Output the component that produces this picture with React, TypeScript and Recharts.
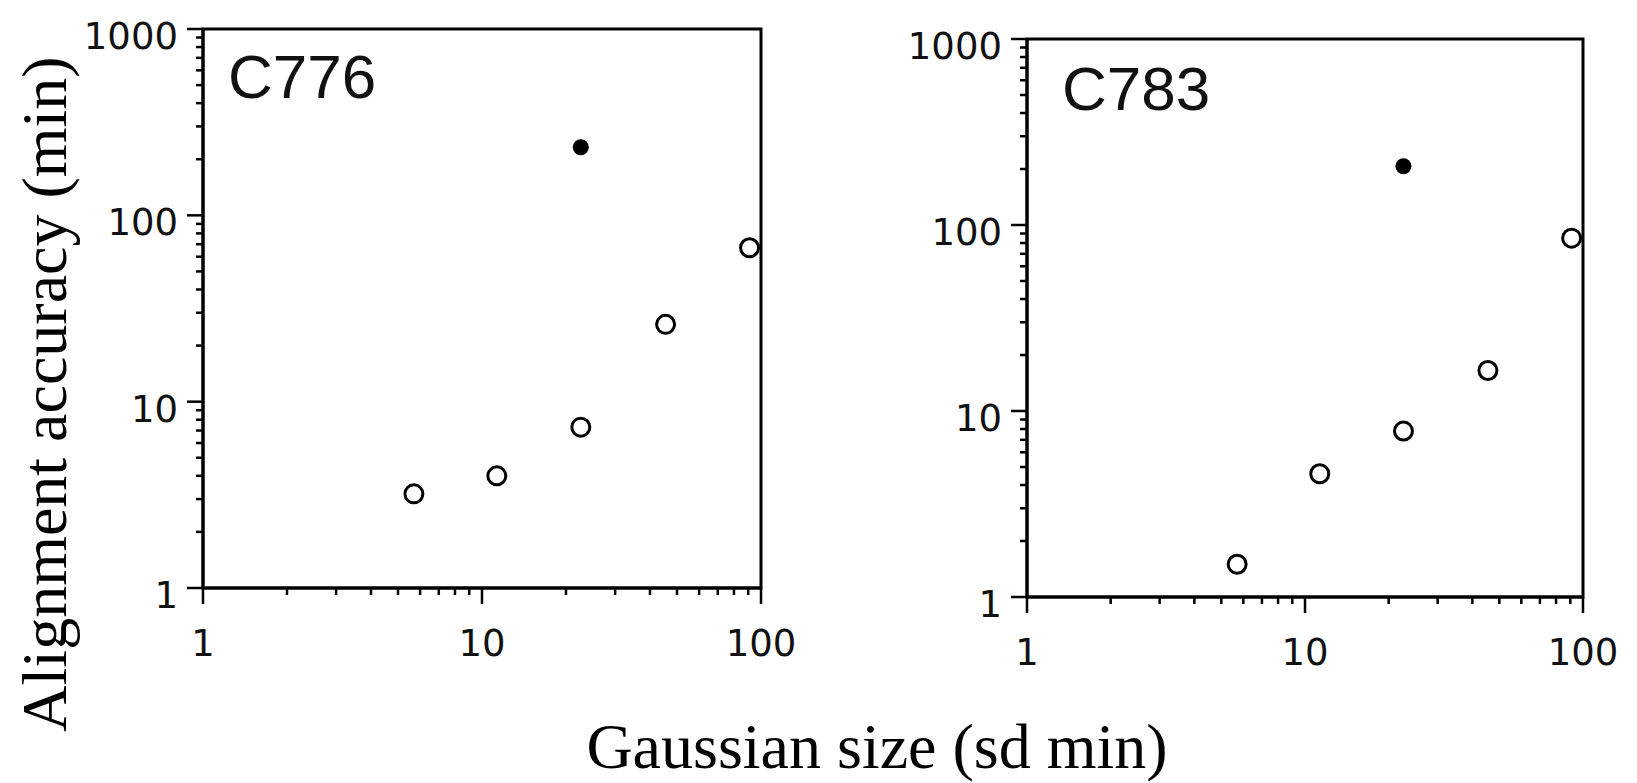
import { ScatterChart, Scatter, XAxis, YAxis, ReferenceArea } from 'recharts'

// Gaussian size (sd, min) for each run, shared by both panels
const gaussianSize = [5.7, 11.3, 22.6, 45.5, 91]
const c776Open = [3.2, 4.0, 7.3, 26, 67]
const c783Open = [1.5, 4.6, 7.8, 16.5, 85]

// the single filled point in each panel
const filledSize = [22.6]
const c776Filled = [232]
const c783Filled = [207]

const xMajor = [1, 10, 100]
const yMajor = [1, 10, 100, 1000]

// log axes: major decades plus 2..9 minor ticks in between
const withMinors = (major: number[]) => {
  const out: number[] = []
  major.forEach((m, i) => {
    if (i === major.length - 1) {
      out.push(m)
      return
    }
    for (let k = 1; k < 10; k++) out.push(m * k)
  })
  return out
}
const xTicks = withMinors(xMajor)
const yTicks = withMinors(yMajor)

const tickFont = { fontFamily: 'DejaVu Sans', fontSize: 37, fill: '#111' }

function XTick({ x, y, payload }: any) {
  const major = xMajor.includes(payload.value)
  return (
    <g>
      <line x1={x} x2={x} y1={y} y2={y + (major ? 16 : 7)} stroke="#000" strokeWidth={2.5} />
      {major && (
        <text x={x} y={y + 68} textAnchor="middle" {...tickFont}>
          {payload.value}
        </text>
      )}
    </g>
  )
}

function YTick({ x, y, payload }: any) {
  const major = yMajor.includes(payload.value)
  return (
    <g>
      <line x1={x - (major ? 16 : 7)} x2={x} y1={y} y2={y} stroke="#000" strokeWidth={2.5} />
      {major && (
        <text x={x - 25} y={y + 20} textAnchor="end" {...tickFont}>
          {payload.value}
        </text>
      )}
    </g>
  )
}

const OpenMarker = (p: any) => (
  <circle cx={p.cx} cy={p.cy} r={9} fill="#fff" stroke="#000" strokeWidth={3} />
)
const FilledMarker = (p: any) => <circle cx={p.cx} cy={p.cy} r={8} fill="#000" />

function Panel({ left, top, plotW, plotH, open, filled }: any) {
  const openData = gaussianSize.map((x, i) => ({ x, y: open[i] }))
  const filledData = filledSize.map((x, i) => ({ x, y: filled[i] }))
  return (
    <div style={{ position: 'absolute', left, top }}>
      <ScatterChart
        width={203 + plotW + 40}
        height={29 + plotH + 100}
        margin={{ top: 29, right: 40, bottom: 20, left: 0 }}
      >
        <XAxis
          type="number"
          dataKey="x"
          scale="log"
          domain={[1, 100]}
          ticks={xTicks}
          interval={0}
          allowDataOverflow
          height={80}
          tickSize={0}
          tickMargin={0}
          tickLine={false}
          axisLine={{ stroke: '#000', strokeWidth: 3 }}
          tick={(props: any) => <XTick {...props} />}
        />
        <YAxis
          type="number"
          dataKey="y"
          scale="log"
          domain={[1, 1000]}
          ticks={yTicks}
          interval={0}
          allowDataOverflow
          width={203}
          tickSize={0}
          tickMargin={0}
          tickLine={false}
          axisLine={{ stroke: '#000', strokeWidth: 3 }}
          tick={(props: any) => <YTick {...props} />}
        />
        <ReferenceArea x1={1} x2={100} y1={1} y2={1000} fill="none" fillOpacity={0} stroke="#000" strokeWidth={3} />
        <Scatter data={openData} isAnimationActive={false} shape={OpenMarker} />
        <Scatter data={filledData} isAnimationActive={false} shape={FilledMarker} />
      </ScatterChart>
    </div>
  )
}

export default function App() {
  return (
    <div style={{ position: 'absolute', left: 0, top: 0, width: 1637, height: 783, background: '#fff' }}>
      <Panel left={0} top={0} plotW={558} plotH={559} open={c776Open} filled={c776Filled} />
      <Panel left={824} top={10} plotW={556} plotH={558} open={c783Open} filled={c783Filled} />
      <svg width={1637} height={783} style={{ position: 'absolute', left: 0, top: 0, pointerEvents: 'none' }}>
        <text x={228} y={98} fontFamily="Liberation Sans" fontSize={62} fill="#111">C776</text>
        <text x={1062} y={110} fontFamily="Liberation Sans" fontSize={62} fill="#111">C783</text>
        <text
          transform="translate(66,394) rotate(-90)"
          textAnchor="middle"
          fontFamily="Liberation Serif"
          fontSize={64}
          fill="#000"
        >
          Alignment accuracy (min)
        </text>
        <text x={877} y={768} textAnchor="middle" fontFamily="Liberation Serif" fontSize={64} fill="#000">
          Gaussian size (sd min)
        </text>
      </svg>
    </div>
  )
}
